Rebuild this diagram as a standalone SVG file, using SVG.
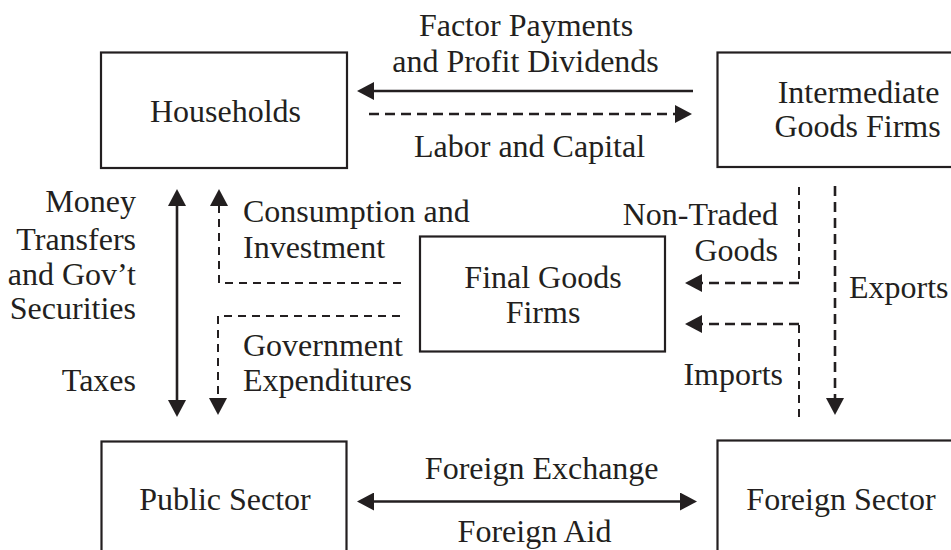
<svg xmlns="http://www.w3.org/2000/svg" width="951" height="550" viewBox="0 0 951 550">
  <defs>
    <style>
      .box { fill: #ffffff; stroke: #231f20; stroke-width: 2.2; }
      text { font-family: "Liberation Serif", "Times New Roman", serif; font-size: 32px; fill: #231f20; }
      .mid { text-anchor: middle; }
      .end { text-anchor: end; }
      .flow { fill: none; stroke: #231f20; }
      .solid { stroke-width: 2.6; }
      .dash-bold { stroke-width: 2.6; stroke-dasharray: 10 6; }
      .dash-thin { stroke-width: 2; stroke-dasharray: 8 6; }
    </style>
    <marker id="head" viewBox="0 0 17 18" refX="2" refY="9" markerWidth="17" markerHeight="18" markerUnits="userSpaceOnUse" orient="auto-start-reverse">
      <path d="M0,0 L17,9 L0,18 z" fill="#231f20"/>
    </marker>
  </defs>

  <rect width="951" height="550" fill="#ffffff"/>

  <!-- sectors -->
  <g id="households">
    <rect class="box" x="101" y="52.5" width="246" height="115.5"/>
    <text class="mid" x="225.5" y="122">Households</text>
  </g>

  <g id="intermediate-goods-firms">
    <rect class="box" x="717.5" y="52.5" width="300" height="114.5"/>
    <text class="mid" x="858.5" y="103">Intermediate</text>
    <text class="mid" x="857.5" y="137">Goods Firms</text>
  </g>

  <g id="final-goods-firms">
    <rect class="box" x="420" y="236.5" width="245" height="115"/>
    <text class="mid" x="543" y="288">Final Goods</text>
    <text class="mid" x="543" y="323">Firms</text>
  </g>

  <g id="public-sector">
    <rect class="box" x="101.5" y="441.5" width="245" height="200"/>
    <text class="mid" x="225" y="510">Public Sector</text>
  </g>

  <g id="foreign-sector">
    <rect class="box" x="717.5" y="440.5" width="300" height="200"/>
    <text class="mid" x="841" y="510">Foreign Sector</text>
  </g>

  <!-- flows between sectors -->
  <g id="connectors">
    <!-- factor payments / labor and capital -->
    <path class="flow solid" d="M693,91 H372" marker-end="url(#head)"/>
    <path class="flow dash-bold" d="M369,114 H677" marker-end="url(#head)"/>

    <!-- money transfers and taxes -->
    <path class="flow solid" d="M177,204 V402" marker-start="url(#head)" marker-end="url(#head)"/>

    <!-- consumption and investment -->
    <path class="flow dash-thin" d="M401,283 H219 V204" marker-end="url(#head)"/>
    <!-- government expenditures -->
    <path class="flow dash-thin" d="M400,316 H218 V400" marker-end="url(#head)"/>

    <!-- non-traded goods -->
    <path class="flow dash-thin" d="M799,187 V283"/>
    <path class="flow dash-bold" d="M799,283 H700" marker-end="url(#head)"/>
    <!-- imports -->
    <path class="flow dash-thin" d="M799,417 V324"/>
    <path class="flow dash-bold" d="M799,324 H700" marker-end="url(#head)"/>
    <!-- exports -->
    <path class="flow dash-bold" d="M835,186 V400" marker-end="url(#head)"/>

    <!-- foreign exchange / foreign aid -->
    <path class="flow solid" d="M372,501.5 H682" marker-start="url(#head)" marker-end="url(#head)"/>
  </g>

  <!-- flow labels -->
  <g id="labels">
    <text class="mid" x="526" y="36">Factor Payments</text>
    <text class="mid" x="525.5" y="72">and Profit Dividends</text>
    <text class="mid" x="529.5" y="157">Labor and Capital</text>

    <text class="end" x="136" y="212">Money</text>
    <text class="end" x="136" y="250">Transfers</text>
    <text class="end" x="136" y="285">and Gov’t</text>
    <text class="end" x="136" y="319">Securities</text>
    <text class="end" x="136" y="391">Taxes</text>

    <text x="243" y="222">Consumption and</text>
    <text x="243" y="258">Investment</text>
    <text x="243" y="356">Government</text>
    <text x="243" y="391">Expenditures</text>

    <text class="end" x="778" y="225">Non-Traded</text>
    <text class="end" x="778" y="261">Goods</text>
    <text class="end" x="783" y="385">Imports</text>
    <text x="849" y="298">Exports</text>

    <text class="mid" x="541.7" y="479">Foreign Exchange</text>
    <text class="mid" x="534.5" y="542">Foreign Aid</text>
  </g>
</svg>
